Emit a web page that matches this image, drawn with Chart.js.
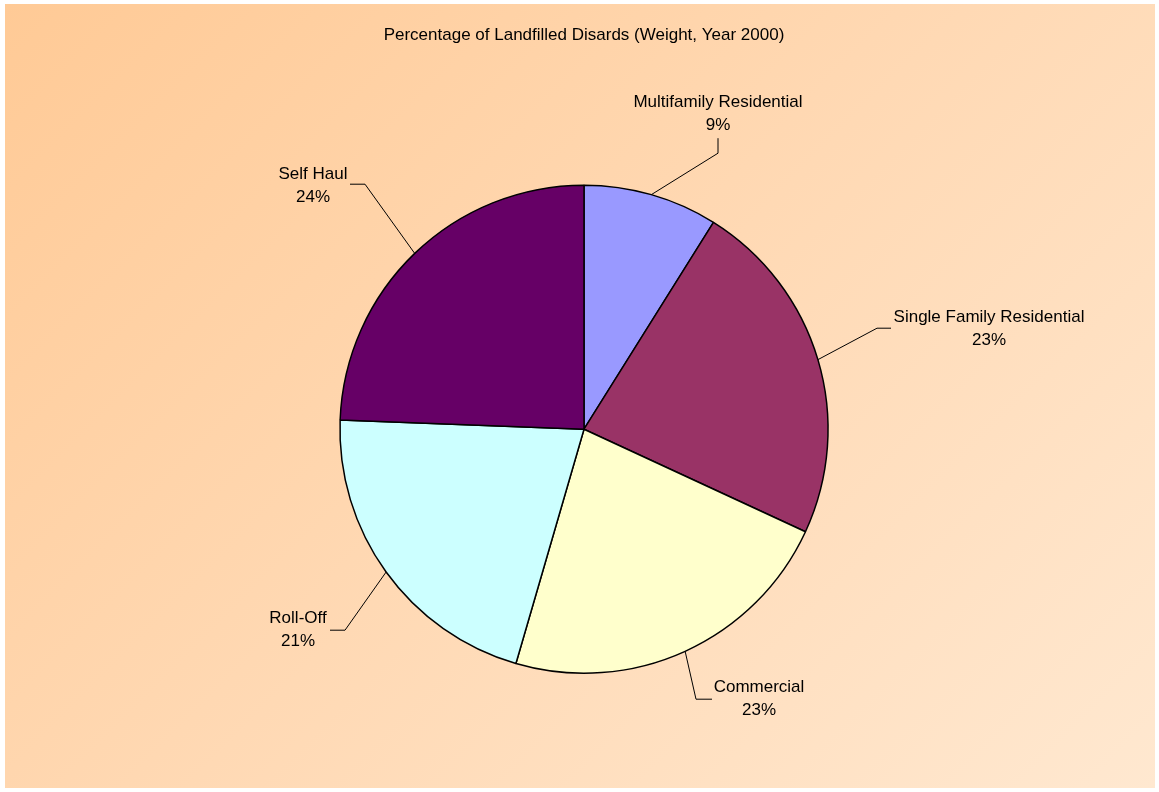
<!DOCTYPE html>
<html>
<head>
<meta charset="utf-8">
<script src="https://cdn.jsdelivr.net/npm/chart.js@4.4.1/dist/chart.umd.min.js"></script>
<style>
  html, body { margin: 0; padding: 0; background: #fff; }
  #frame {
    position: absolute; left: 5px; top: 4px; width: 1150px; height: 784px;
    background: linear-gradient(135deg, #FFCA96 0%, #FFD9B4 50%, #FFE8D0 100%);
  }
</style>
</head>
<body>
<div id="frame"><canvas id="pieChart" width="1150" height="784"></canvas></div>
<script>
const categories = ['Multifamily Residential', 'Single Family Residential', 'Commercial', 'Roll-Off', 'Self Haul'];
const shares = [8.9, 23.0, 22.6, 21.1, 24.4];
const sliceColors = ['#9999FF', '#993366', '#FFFFCC', '#CCFFFF', '#660066'];

// where each label sits, relative to the pie centre: elbow, line end, text centre
const labelLayout = [
    { elbow: [134, -276], end: [134, -291], text: [134, -315] },
    { elbow: [293, -101], end: [307, -101], text: [405, -100] },
    { elbow: [112, 270], end: [128, 270], text: [175, 270] },
    { elbow: [-239, 201], end: [-254, 201], text: [-286, 201] },
    { elbow: [-219, -245], end: [-234, -245], text: [-271, -243] }
];

const leaderLabels = {
    id: 'leaderLabels',
    afterDraw(chart) {
        const ctx = chart.ctx;
        const meta = chart.getDatasetMeta(0);
        const total = shares.reduce((a, b) => a + b, 0);
        ctx.save();
        meta.data.forEach((arc, i) => {
            const p = arc.getProps(['x', 'y', 'startAngle', 'endAngle', 'outerRadius']);
            const mid = (p.startAngle + p.endAngle) / 2;
            const ax = p.x + Math.cos(mid) * p.outerRadius;
            const ay = p.y + Math.sin(mid) * p.outerRadius;
            const lay = labelLayout[i];
            ctx.strokeStyle = '#000';
            ctx.lineWidth = 1;
            ctx.beginPath();
            ctx.moveTo(ax, ay);
            ctx.lineTo(p.x + lay.elbow[0], p.y + lay.elbow[1]);
            ctx.lineTo(p.x + lay.end[0], p.y + lay.end[1]);
            ctx.stroke();

            ctx.fillStyle = '#000';
            ctx.font = '17px "Liberation Sans", Arial, sans-serif';
            ctx.textAlign = 'center';
            ctx.textBaseline = 'middle';
            const tx = p.x + lay.text[0];
            const ty = p.y + lay.text[1];
            ctx.fillText(categories[i], tx, ty - 11.5);
            ctx.fillText(Math.round(shares[i] / total * 100) + '%', tx, ty + 11.5);
        });
        ctx.restore();
    }
};

new Chart(document.getElementById('pieChart'), {
    type: 'pie',
    data: {
        labels: categories,
        datasets: [{
            data: shares,
            backgroundColor: sliceColors,
            borderColor: '#000',
            borderWidth: 1.5
        }]
    },
    options: {
        responsive: false,
        animation: false,
        layout: { padding: { left: 8, right: 0, top: 0, bottom: 114 } },
        plugins: {
            legend: { display: false },
            tooltip: { enabled: false },
            title: {
                display: true,
                text: 'Percentage of Landfilled Disards (Weight, Year 2000)',
                color: '#000',
                font: { family: '"Liberation Sans", Arial, sans-serif', size: 17, weight: 'normal' },
                padding: { top: 21, bottom: 139 }
            }
        }
    },
    plugins: [leaderLabels]
});
</script>
</body>
</html>
